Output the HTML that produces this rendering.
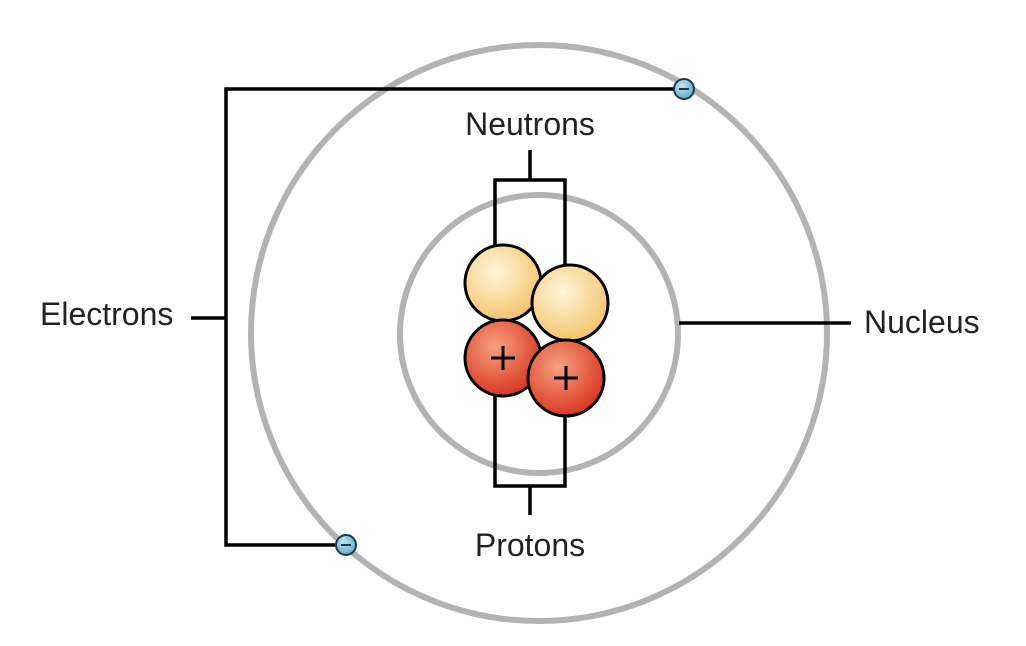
<!DOCTYPE html>
<html><head><style>body{margin:0;background:#fff}</style></head><body>
<svg width="1026" height="641" viewBox="0 0 1026 641" xmlns="http://www.w3.org/2000/svg" font-family="Liberation Sans, sans-serif">
<defs>
<radialGradient id="y" cx="0.4" cy="0.35" r="0.7"><stop offset="0" stop-color="#fff6dc"/><stop offset="1" stop-color="#f4c166"/></radialGradient>
<radialGradient id="r" cx="0.4" cy="0.35" r="0.7"><stop offset="0" stop-color="#f8a080"/><stop offset="1" stop-color="#d6321c"/></radialGradient>
<radialGradient id="b" cx="0.4" cy="0.35" r="0.7"><stop offset="0" stop-color="#c4e6f2"/><stop offset="1" stop-color="#5aa8c6"/></radialGradient>
</defs>
<circle cx="539" cy="333" r="288" fill="none" stroke="#b3b3b5" stroke-width="6"/>
<circle cx="539" cy="334" r="139" fill="none" stroke="#b3b3b5" stroke-width="6"/>
<g fill="none" stroke="#000" stroke-width="3.5">
<path d="M684 89 H226 V545 H346"/>
<path d="M191 318 H226"/>
<path d="M679 323 H851"/>
<path d="M530 150 V180 M495 260 V180 H565 V280"/>
<path d="M530 515 V486 M495 390 V486 H565 V410"/>
</g>
<g stroke="#000" stroke-width="3">
<circle cx="503" cy="283" r="38" fill="url(#y)"/>
<circle cx="570" cy="303" r="38" fill="url(#y)"/>
<circle cx="503" cy="358" r="38" fill="url(#r)"/>
<circle cx="566" cy="378" r="38" fill="url(#r)"/>
</g>
<g stroke="#000" stroke-width="3">
<path d="M491 358 H515 M503 346 V370"/>
<path d="M554 378 H578 M566 366 V390"/>
</g>
<g stroke="#1a3a4a" stroke-width="2">
<circle cx="684" cy="89" r="10" fill="url(#b)"/>
<circle cx="346" cy="545" r="10" fill="url(#b)"/>
</g>
<g stroke="#1a3a4a" stroke-width="2"><path d="M679 89 H689 M341 545 H351"/></g>
<g font-size="32" fill="#222">
<text x="530" y="135" text-anchor="middle">Neutrons</text>
<text x="530" y="556" text-anchor="middle">Protons</text>
<text x="40" y="325">Electrons</text>
<text x="864" y="333">Nucleus</text>
</g>
</svg>
</body></html>
